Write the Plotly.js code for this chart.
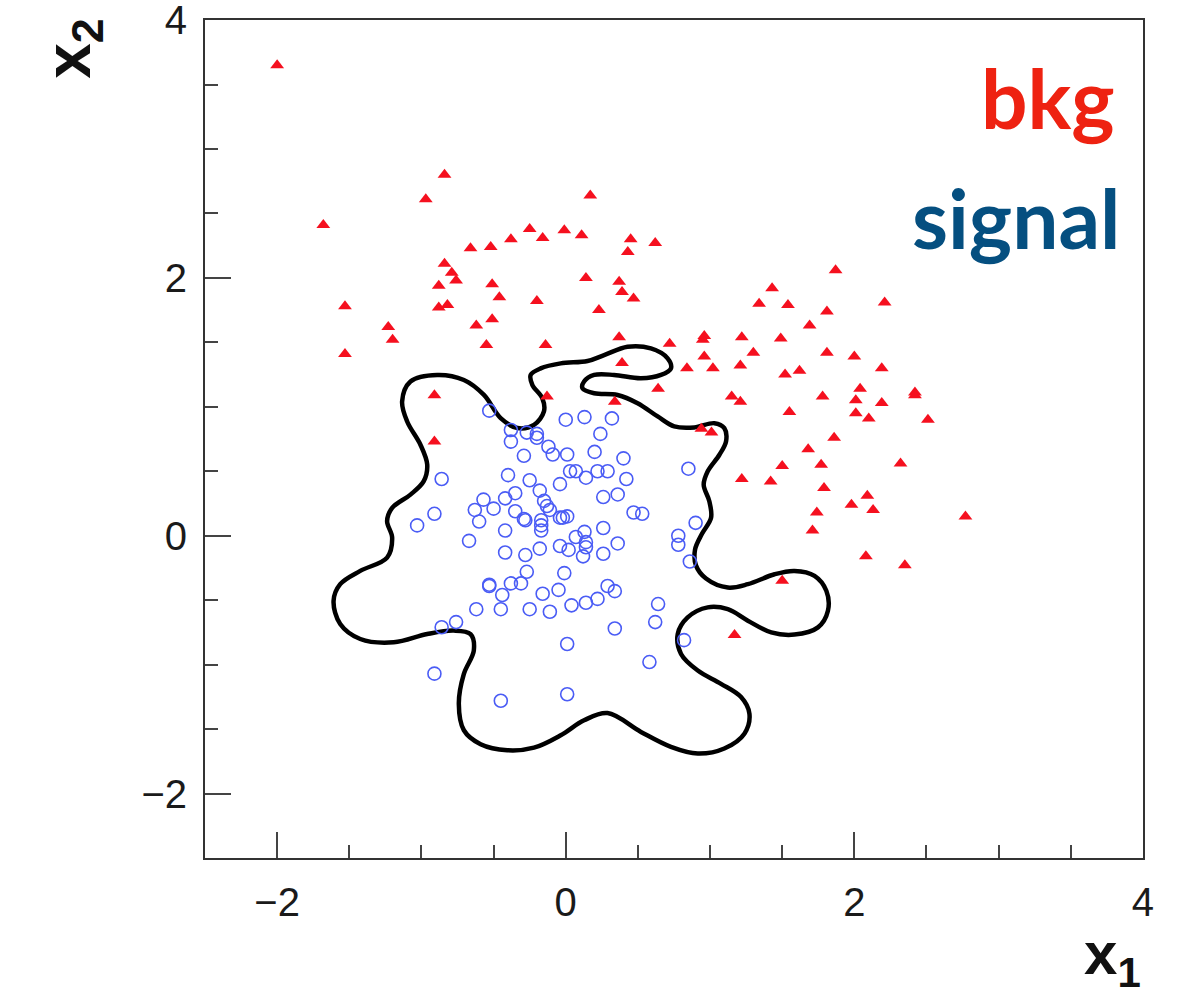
<!DOCTYPE html>
<html>
<head>
<meta charset="utf-8">
<script src="https://cdn.plot.ly/plotly-3.0.1.min.js"></script>
<style>html,body{margin:0;padding:0;background:#fff;}#chart{width:1184px;height:997px;}</style>
</head>
<body>
<div id="chart"></div>
<script>
// Background (bkg) points: red triangles
var bkgX = [-2.00,-0.84,-0.97,-1.68,0.17,-0.25,-0.01,0.11,-0.16,-0.38,-0.52,-0.66,0.45,0.62,0.43,-0.84,-0.79,-0.76,-0.88,-0.51,-0.46,0.14,-0.20,0.37,0.39,0.47,0.23,-0.88,-0.82,-1.53,-1.23,-1.20,-0.62,-0.51,0.37,0.72,-0.55,-0.14,-1.53,1.87,1.43,1.34,1.54,2.21,1.81,1.69,0.96,0.95,1.22,1.49,1.30,1.81,2.00,0.39,0.96,0.84,1.02,1.21,2.19,1.52,1.62,0.64,0.34,1.15,1.21,1.78,2.04,2.01,2.19,2.42,2.42,1.55,2.01,2.10,2.51,0.94,1.01,1.86,1.68,1.50,1.77,2.32,1.22,1.42,1.79,2.09,1.98,2.13,1.74,2.77,1.71,2.08,2.35,1.50,1.17,-0.91,-0.13,-0.91];
var bkgY = [3.65,2.80,2.61,2.41,2.64,2.38,2.37,2.33,2.31,2.30,2.24,2.23,2.30,2.27,2.20,2.11,2.04,1.98,1.94,1.95,1.85,2.00,1.82,1.97,1.89,1.84,1.75,1.77,1.79,1.78,1.62,1.52,1.63,1.68,1.54,1.49,1.48,1.48,1.41,2.06,1.92,1.80,1.79,1.81,1.74,1.63,1.55,1.52,1.54,1.53,1.42,1.42,1.39,1.34,1.39,1.30,1.30,1.32,1.30,1.25,1.28,1.14,1.04,1.08,1.04,1.08,1.14,1.05,1.03,1.11,1.09,0.96,0.95,0.91,0.90,0.83,0.80,0.76,0.67,0.54,0.55,0.56,0.44,0.42,0.37,0.31,0.24,0.20,0.18,0.15,0.04,-0.16,-0.23,-0.35,-0.77,1.09,1.08,0.73];

// Signal points: blue open circles
var sigX = [-0.53,0.00,0.13,0.32,-0.38,-0.27,-0.20,-0.20,-0.38,0.24,-0.12,-0.09,0.01,0.20,-0.29,0.40,0.85,-0.86,-0.40,-0.25,0.03,0.07,0.14,0.22,0.29,0.42,-0.04,-0.18,-0.35,-0.42,-0.57,-0.15,-0.13,0.26,0.36,-0.50,-0.63,-0.35,-0.11,-0.91,0.47,0.53,-0.29,-0.28,-0.17,-0.04,-0.02,0.01,-1.03,-0.60,-0.17,-0.17,-0.42,0.13,0.07,0.26,0.14,0.14,0.12,0.90,0.78,0.78,0.86,-0.67,-0.04,0.02,-0.18,-0.42,-0.28,0.26,0.36,-0.27,-0.01,-0.53,-0.53,-0.38,-0.31,-0.44,-0.16,-0.05,0.29,0.34,0.22,0.14,0.04,-0.11,-0.25,-0.45,-0.62,0.64,0.62,0.34,-0.86,-0.76,0.01,0.82,0.58,-0.91,0.01,-0.45];
var sigY = [0.97,0.90,0.92,0.91,0.82,0.80,0.79,0.76,0.73,0.79,0.69,0.63,0.63,0.65,0.62,0.60,0.52,0.44,0.47,0.43,0.50,0.50,0.45,0.50,0.50,0.44,0.40,0.35,0.33,0.29,0.28,0.27,0.23,0.30,0.32,0.21,0.20,0.19,0.20,0.17,0.18,0.17,0.13,0.12,0.12,0.14,0.14,0.15,0.08,0.11,0.08,0.04,0.04,0.03,-0.01,0.06,-0.05,-0.09,-0.16,0.10,0.00,-0.07,-0.20,-0.04,-0.08,-0.11,-0.10,-0.13,-0.15,-0.14,-0.06,-0.28,-0.29,-0.38,-0.39,-0.37,-0.37,-0.46,-0.45,-0.42,-0.39,-0.43,-0.49,-0.52,-0.54,-0.59,-0.57,-0.57,-0.57,-0.53,-0.67,-0.72,-0.71,-0.67,-0.84,-0.81,-0.98,-1.07,-1.23,-1.28];

// Decision boundary (closed contour)
var contourX = [-1.134,-1.076,-0.891,-0.706,-0.567,-0.451,-0.335,-0.220,-0.151,-0.162,-0.231,-0.243,-0.174,-0.035,0.151,0.266,0.428,0.590,0.706,0.729,0.660,0.521,0.335,0.197,0.127,0.116,0.197,0.359,0.498,0.637,0.752,0.891,1.030,1.099,1.111,1.065,0.984,0.956,0.995,1.007,0.944,0.896,0.903,0.972,1.123,1.262,1.447,1.585,1.724,1.806,1.817,1.748,1.585,1.424,1.262,1.123,0.984,0.845,0.776,0.799,0.915,1.076,1.215,1.273,1.238,1.099,0.915,0.729,0.521,0.290,0.127,-0.035,-0.220,-0.405,-0.590,-0.706,-0.741,-0.706,-0.637,-0.660,-0.776,-0.960,-1.192,-1.424,-1.563,-1.609,-1.563,-1.424,-1.238,-1.203,-1.238,-1.203,-1.076,-0.984,-0.960,-1.007,-1.099,-1.134];
var contourY = [1.041,1.196,1.247,1.208,1.092,0.912,0.835,0.860,0.964,1.066,1.169,1.247,1.298,1.337,1.355,1.401,1.466,1.453,1.376,1.298,1.247,1.221,1.247,1.247,1.196,1.144,1.105,1.092,1.028,0.925,0.848,0.840,0.873,0.835,0.732,0.628,0.500,0.396,0.268,0.139,0.015,-0.108,-0.232,-0.332,-0.402,-0.376,-0.299,-0.273,-0.311,-0.427,-0.582,-0.711,-0.767,-0.750,-0.659,-0.570,-0.556,-0.634,-0.763,-0.917,-1.046,-1.149,-1.252,-1.381,-1.536,-1.651,-1.690,-1.638,-1.522,-1.376,-1.432,-1.548,-1.644,-1.664,-1.617,-1.509,-1.304,-1.072,-0.891,-0.763,-0.736,-0.763,-0.827,-0.801,-0.685,-0.505,-0.376,-0.273,-0.170,-0.015,0.114,0.216,0.319,0.423,0.551,0.706,0.886,1.041];

var xTicks = [-2, 0, 2, 4];
var yTicks = [-2, 0, 2, 4];
var bkgLabel = 'bkg';
var sigLabel = 'signal';

var traces = [
  {x: contourX, y: contourY, type: 'scatter', mode: 'lines',
   line: {color: '#000', width: 4.5, shape: 'spline', smoothing: 1.0}, hoverinfo: 'skip'},
  {x: bkgX, y: bkgY, type: 'scatter', mode: 'markers', name: bkgLabel,
   marker: {symbol: 'triangle-up', size: 12, color: '#f5101f', line: {width: 0}}},
  {x: sigX, y: sigY, type: 'scatter', mode: 'markers', name: sigLabel,
   marker: {symbol: 'circle-open', size: 13, color: '#4a5cf5', line: {width: 1.6, color: '#4a5cf5'}}}
];

var axisCommon = {
  showgrid: false, zeroline: false, showline: true, mirror: true,
  linecolor: '#333', linewidth: 2,
  ticks: 'inside', ticklen: 26, tickwidth: 2, tickcolor: '#444',
  ticklabeloverflow: 'allow',
  tickfont: {family: 'Liberation Sans, Arial, sans-serif', size: 40, color: '#1a1a1a'},
  minor: {ticks: 'inside', dtick: 0.5, ticklen: 13, tickwidth: 2, tickcolor: '#444', showgrid: false}
};

var layout = {
  width: 1184, height: 997,
  margin: {l: 205, r: 41, t: 20, b: 139},
  paper_bgcolor: '#fff', plot_bgcolor: '#fff',
  showlegend: false,
  xaxis: Object.assign({}, axisCommon, {range: [-2.5, 4.0005], tickvals: xTicks, ticklabelstandoff: 8}),
  yaxis: Object.assign({}, axisCommon, {range: [-2.5, 4.0005], tickvals: yTicks, ticklabelstandoff: 8}),
  annotations: [
    {xref: 'paper', yref: 'paper', x: 0.9723, y: 0.908, xanchor: 'right', yanchor: 'middle',
     text: '<b>' + bkgLabel + '</b>', showarrow: false,
     font: {family: 'Lato, Noto Sans, sans-serif', size: 82, color: '#ee2211'}},
    {xref: 'paper', yref: 'paper', x: 0.978, y: 0.765, xanchor: 'right', yanchor: 'middle',
     text: '<b>' + sigLabel + '</b>', showarrow: false,
     font: {family: 'Lato, Noto Sans, sans-serif', size: 82, color: '#054f80'}},
    {xref: 'paper', yref: 'paper', x: 0.968, y: -0.119, xanchor: 'center', yanchor: 'middle',
     text: '<b>x<sub>1</sub></b>', showarrow: false,
     font: {family: 'Liberation Sans Narrow, Arial Narrow, sans-serif', size: 60, color: '#111'}},
    {xref: 'paper', yref: 'paper', x: -0.142, y: 0.9666, xanchor: 'center', yanchor: 'middle',
     text: '<b>x<sub>2</sub></b>', showarrow: false, textangle: -90,
     font: {family: 'Liberation Sans Narrow, Arial Narrow, sans-serif', size: 64, color: '#111'}}
  ]
};

Plotly.newPlot('chart', traces, layout, {displayModeBar: false, staticPlot: true});
</script>
</body>
</html>
